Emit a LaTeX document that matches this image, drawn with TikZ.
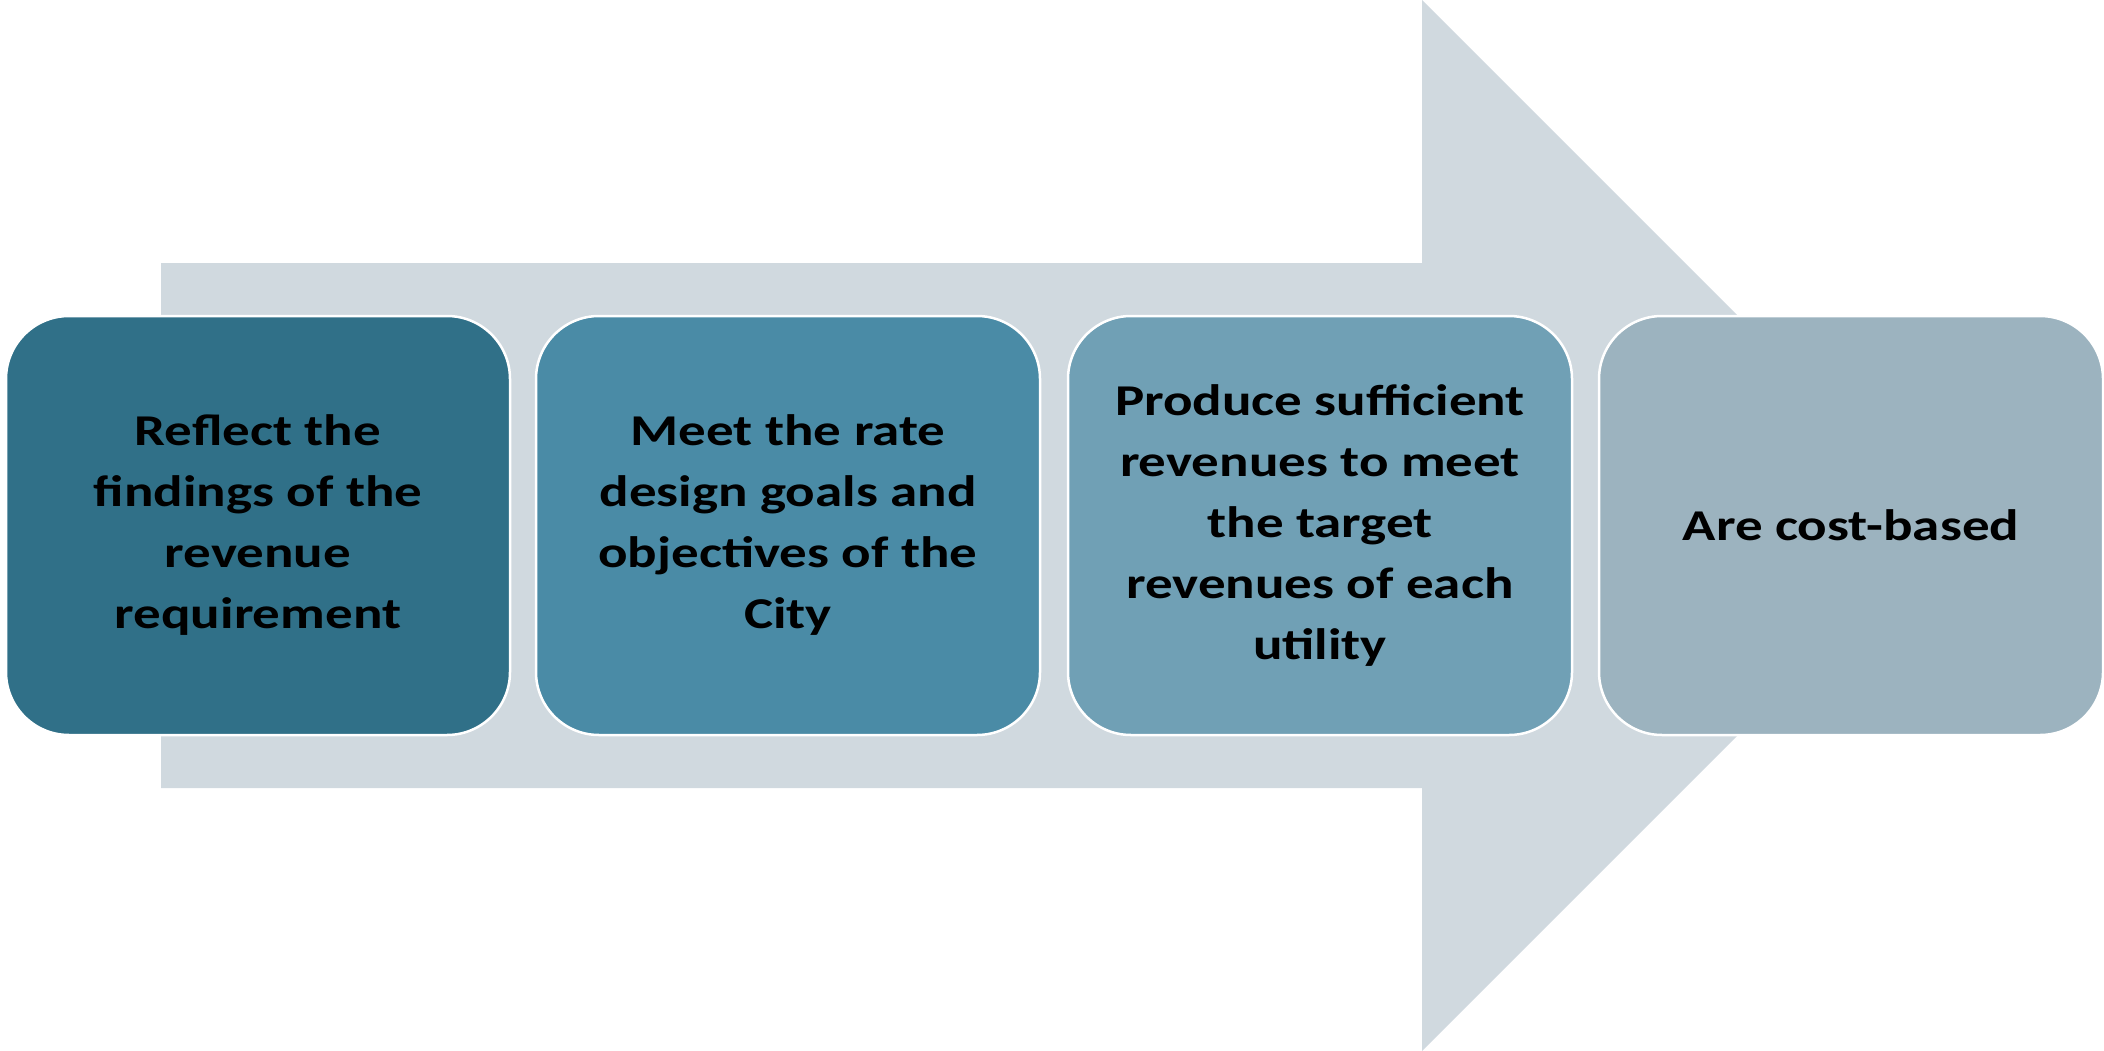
\documentclass[tikz,border=0pt]{standalone}
\usepackage{fontspec}
\setmainfont{Carlito}[FakeStretch=1.25]
\definecolor{arrowgray}{HTML}{D0D9DF}
\definecolor{stepA}{HTML}{307088}
\definecolor{stepB}{HTML}{4A8BA6}
\definecolor{stepC}{HTML}{70A0B5}
\definecolor{stepD}{HTML}{9CB3BF}
\begin{document}
\begin{tikzpicture}[x=1pt,y=-1pt,
  stepbox/.style={draw=white, line width=2.5pt, rounded corners=63pt,
    minimum width=504pt, minimum height=419pt, inner sep=0pt,
    align=center, text=black,
    font={\fontsize{44}{61}\selectfont\bfseries}}]
  \useasboundingbox (0,0) rectangle (2104,1051);
  % background block arrow
  \fill[arrowgray] (161,263) -- (1422,263) -- (1422,0) -- (1947.5,525.5)
    -- (1422,1051) -- (1422,788) -- (161,788) -- cycle;
  % the four steps
  \node[stepbox, fill=stepA] (s1) at (258,525.5)
    {Reflect the\\findings of the\\revenue\\requirement};
  \node[stepbox, fill=stepB] (s2) at (788,525.5)
    {Meet the rate\\design goals and\\objectives of the\\City};
  \node[stepbox, fill=stepC] (s3) at (1320,525.5)
    {Produce sufficient\\revenues to meet\\the target\\revenues of each\\utility};
  \node[stepbox, fill=stepD] (s4) at (1851,525.5)
    {Are cost-based};
\end{tikzpicture}
\end{document}
